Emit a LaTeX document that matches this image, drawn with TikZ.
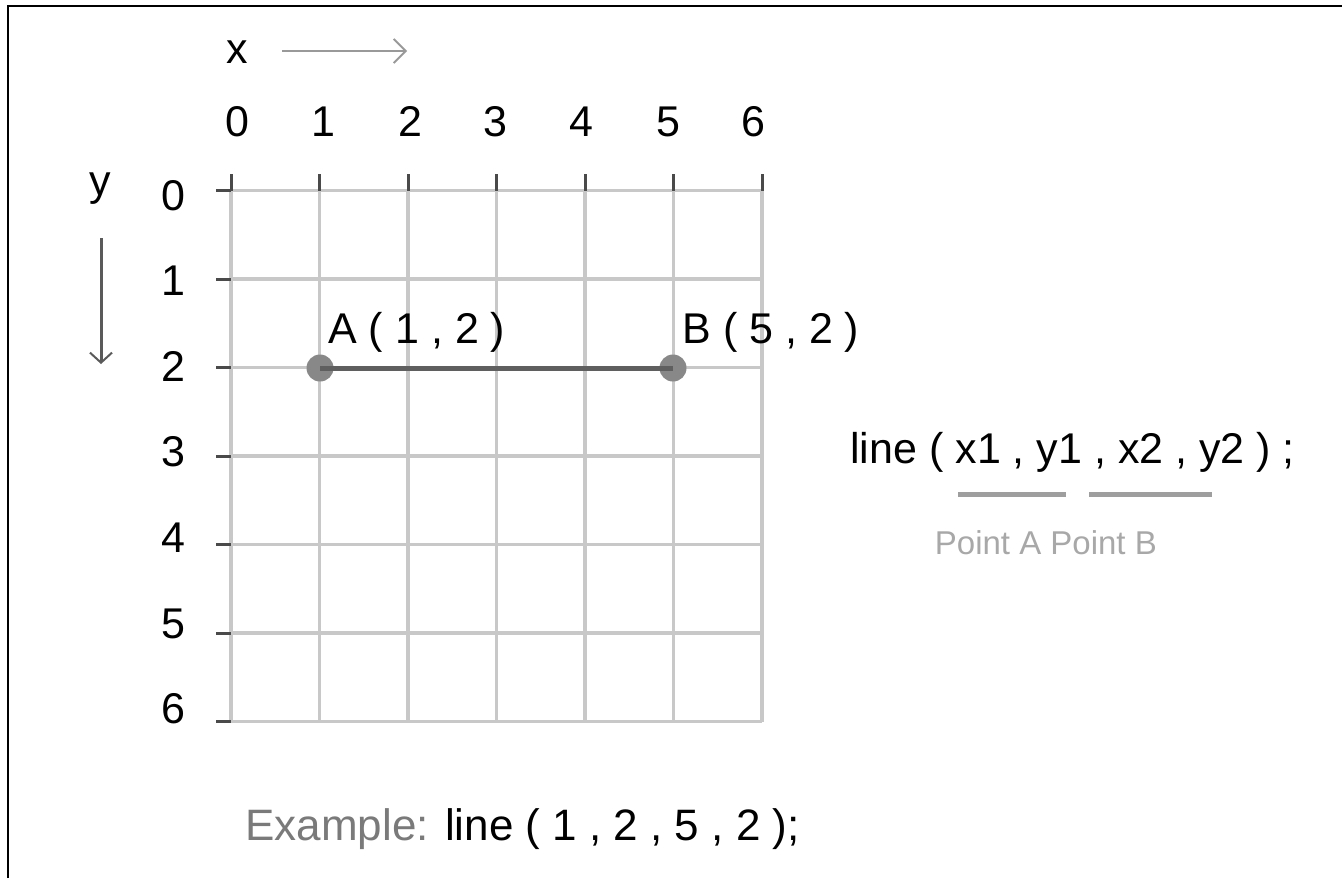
\documentclass[tikz,border=0pt]{standalone}
\usepackage{fontspec}
\setmainfont{Liberation Sans}
\usetikzlibrary{arrows.meta}
\definecolor{gridc}{HTML}{C8C8C8}
\definecolor{tickc}{HTML}{4A4A4A}
\definecolor{arrowx}{HTML}{999999}
\definecolor{arrowy}{HTML}{5A5A5A}
\definecolor{dotc}{HTML}{888888}
\definecolor{segc}{HTML}{5F5F5F}
\definecolor{notec}{HTML}{A8A8A8}
\definecolor{barc}{HTML}{9E9E9E}
\definecolor{examplec}{HTML}{7A7A7A}
\begin{document}
\begin{tikzpicture}[x=0.5pt,y=-0.5pt,
  txt/.style={inner sep=0pt,anchor=base,font=\fontsize{21.5}{26}\selectfont},
  txtl/.style={txt,anchor=base west},
  note/.style={inner sep=0pt,anchor=base west,font=\fontsize{16.5}{20}\selectfont,text=notec},
  gridline/.style={draw=gridc,line width=1.6pt},
  tickmark/.style={draw=tickc,line width=1.5pt},
  frameline/.style={draw=black,line width=1pt},
  xarrow/.style={draw=arrowx,line width=1.3pt,-{Straight Barb[length=6pt,width=12pt,line width=0.9pt]}},
  yarrow/.style={draw=arrowy,line width=1.5pt,-{Straight Barb[length=5pt,width=11pt,line width=1pt]}},
  ptdot/.style={circle,fill=dotc,inner sep=0pt,minimum size=13.5pt},
  segment/.style={draw=segc,line width=2.5pt},
  bar/.style={draw=barc,line width=2.5pt}]
\useasboundingbox (0,0) rectangle (1342,878);
% frame (top and left edges)
\coordinate (f0) at (8,878);
\coordinate (f1) at (8,6);
\coordinate (f2) at (1342,6);
\draw[frameline] (f0) -- (f1) -- (f2);
% grid
\foreach \i in {0,...,6}{
  \draw[gridline] ({231+88.5*\i},190.5) -- ({231+88.5*\i},721.5);
  \draw[gridline] (231,{190.5+88.5*\i}) -- (762,{190.5+88.5*\i});
}
\foreach \i in {0,...,6}{
  \draw[tickmark] ({231+88.5*\i},174) -- ({231+88.5*\i},191);
  \draw[tickmark] (216,{190.5+88.5*\i}) -- (231,{190.5+88.5*\i});
}
% axis labels and arrows
\node[txt] (xlab) at (237.5,63) {x};
\coordinate (xa0) at (282,51);
\coordinate (xa1) at (407,51);
\draw[xarrow] (xa0) -- (xa1);
\node[txt] (ylab) at (100,195) {y};
\coordinate (ya0) at (101,238);
\coordinate (ya1) at (101,364);
\draw[yarrow] (ya0) -- (ya1);
% top numbers
\foreach \n/\xx in {0/237.5,1/323,2/410,3/495.5,4/581.5,5/668.5,6/753.5}{
  \node[txt] (top\n) at (\xx,136) {\n};
}
% left numbers
\foreach \n/\yy in {0/210,1/295.5,2/381,3/466.5,4/552,5/638,6/723.5}{
  \node[txt] (left\n) at (173,\yy) {\n};
}
% points and segment
\node[ptdot] (A) at (320,368) {};
\node[ptdot] (B) at (673,368) {};
\draw[segment] (A.center) -- (B.center);
\node[txtl] (Alab) at (328,343) {A ( 1 , 2 )};
\node[txtl] (Blab) at (682,343) {B ( 5 , 2 )};
% syntax
\node[txtl] (syntax) at (850,463) {line ( x1 , y1 , x2 , y2 ) ;};
\coordinate (b1s) at (958,494);
\coordinate (b1e) at (1066,494);
\coordinate (b2s) at (1089,494);
\coordinate (b2e) at (1212,494);
\draw[bar] (b1s) -- (b1e);
\draw[bar] (b2s) -- (b2e);
\node[note] (pts) at (934.5,554) {Point A Point B};
% example
\node[txtl,font=\fontsize{22}{26}\selectfont] (example) at (245,840) {\textcolor{examplec}{Example:} line ( 1 , 2 , 5 , 2 );};
\end{tikzpicture}
\end{document}
